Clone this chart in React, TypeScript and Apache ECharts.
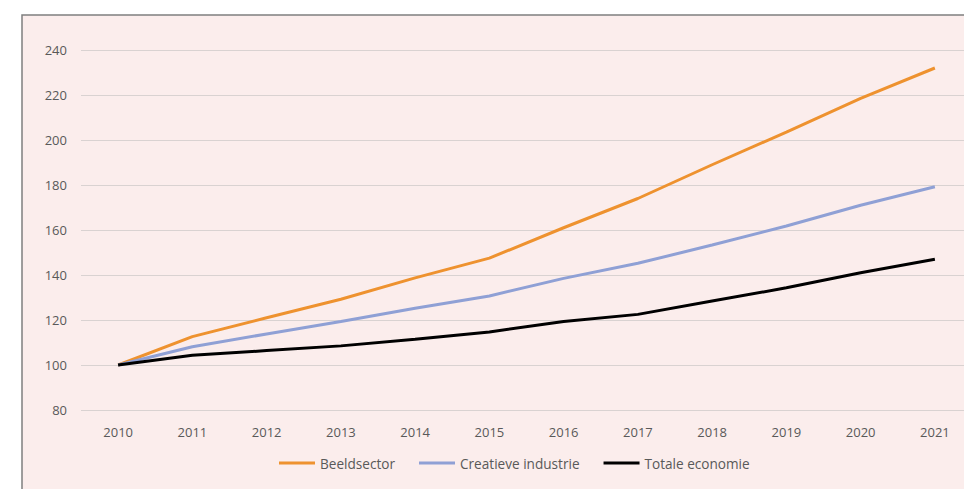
import React, { useEffect, useRef } from "react";
import * as echarts from "echarts";

const years = ["2010", "2011", "2012", "2013", "2014", "2015", "2016", "2017", "2018", "2019", "2020", "2021"];
const beeldsector = [100, 112.6, 121, 129.2, 138.7, 147.5, 161, 174, 189, 203.5, 218.5, 232];
const creatieve = [100, 108.1, 113.8, 119.3, 125.2, 130.7, 138.5, 145.2, 153.3, 161.8, 171, 179.2];
const totale = [100, 104.3, 106.4, 108.5, 111.4, 114.7, 119.3, 122.5, 128.4, 134.3, 141, 147];
const seriesNames = ["Beeldsector", "Creatieve industrie", "Totale economie"];
const colors = ["#EE922F", "#8FA0D5", "#000000"];

export default function App() {
  const ref = useRef<HTMLDivElement>(null);
  useEffect(() => {
    if (!ref.current) return;
    const chart = echarts.init(ref.current, null, { renderer: "svg" });
    const font = "'Open Sans', sans-serif";
    const data = [beeldsector, creatieve, totale];
    chart.setOption({
      animation: false,
      backgroundColor: "#ffffff",
      graphic: [
        {
          type: "rect",
          z: -10,
          silent: true,
          shape: { x: 22, y: 15, width: 1000, height: 1000 },
          style: { fill: "#FBEDEC", stroke: "#7F7F7F", lineWidth: 1.5 },
        },
      ],
      grid: { left: 81, right: 0, top: 50, height: 360, containLabel: false },
      legend: {
        data: seriesNames,
        top: 456,
        left: 279,
        padding: 0,
        itemWidth: 36,
        itemHeight: 3,
        itemGap: 24,
        icon: "rect",
        textStyle: { color: "#595959", fontSize: 13.6, fontFamily: font },
      },
      xAxis: {
        type: "category",
        data: years,
        boundaryGap: true,
        axisLine: { show: false },
        axisTick: { show: false },
        axisLabel: { color: "#595959", fontSize: 13, fontFamily: font, margin: 15 },
      },
      yAxis: {
        type: "value",
        min: 80,
        max: 240,
        interval: 20,
        axisLine: { show: false },
        axisTick: { show: false },
        axisLabel: { color: "#595959", fontSize: 13, fontFamily: font, margin: 14 },
        splitLine: { lineStyle: { color: "#D9D2D1", width: 1.2 } },
      },
      series: seriesNames.map((name, i) => ({
        name,
        type: "line",
        data: data[i],
        symbol: "none",
        color: colors[i],
        lineStyle: { color: colors[i], width: 3 },
        z: 10 + i,
      })),
    });
    return () => chart.dispose();
  }, []);
  return (
    <div
      ref={ref}
      style={{ position: "fixed", left: 0, top: 0, width: 972, height: 489 }}
    />
  );
}
